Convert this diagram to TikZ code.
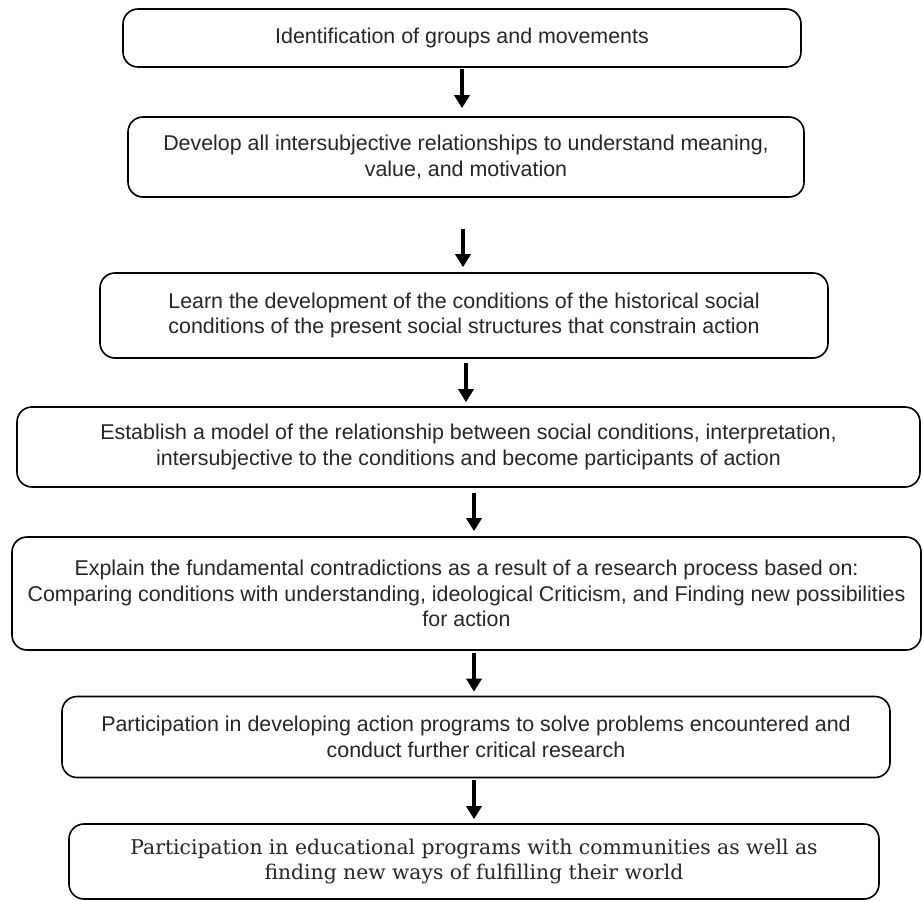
\documentclass[tikz,border=0pt]{standalone}
\usepackage{fontspec}
\setmainfont{Liberation Sans}
\newfontfamily\serifbox{DejaVu Serif}
\usetikzlibrary{arrows.meta,calc}
\begin{document}
\begin{tikzpicture}[x=1pt,y=-1pt,
  box/.style={draw=black, line width=1.6pt, rounded corners=15pt, fill=white,
    align=center, inner sep=0pt, text=black!85,
    font=\fontsize{21.4}{25.5}\selectfont},
  sbox/.style={box, font=\serifbox\fontsize{20.3}{24.5}\selectfont},
  arr/.style={line width=4pt, -{Triangle[width=15pt,length=13pt]}}]
\useasboundingbox[fill=white] (0,0) rectangle (923,901);
% boxes
\node[box, minimum width=678pt, minimum height=58pt] (b1) at (462,38) {Identification of groups and movements};
\node[box, minimum width=676pt, minimum height=80pt] (b2) at (466,157) {Develop all intersubjective relationships to understand meaning,\\ value, and motivation};
\node[box, minimum width=728pt, minimum height=85pt] (b3) at (464,315.5) {Learn the development of the conditions of the historical social\\ conditions of the present social structures that constrain action};
\node[box, minimum width=903pt, minimum height=80pt] (b4) at (468.5,447) {Establish a model of the relationship between social conditions, interpretation,\\ intersubjective to the conditions and become participants of action};
\node[box, minimum width=909pt, minimum height=113pt] (b5) at (466.5,593.5) {Explain the fundamental contradictions as a result of a research process based on:\\ Comparing conditions with understanding, ideological Criticism, and Finding new possibilities\\ for action};
\node[box, minimum width=828pt, minimum height=81pt] (b6) at (476,737) {Participation in developing action programs to solve problems encountered and\\ conduct further critical research};
\node[sbox, minimum width=810pt, minimum height=75pt] (b7) at (474,861.5) {Participation in educational programs with communities as well as\\ finding new ways of fulfilling their world};
% arrow columns
\coordinate (ca) at (462,0);
\coordinate (cb) at (463,0);
\coordinate (cc) at (466,0);
\coordinate (cd) at (474,0);
\draw[arr] ([yshift=-1pt]b1.south -| ca) -- ([yshift=8pt]b2.north -| ca);
\draw[arr] ([yshift=-31pt]b2.south -| cb) -- ([yshift=5pt]b3.north -| cb);
\draw[arr] ([yshift=-4pt]b3.south -| cc) -- ([yshift=4pt]b4.north -| cc);
\draw[arr] ([yshift=-5pt]b4.south -| cd) -- ([yshift=5pt]b5.north -| cd);
\draw[arr] ([yshift=-2pt]b5.south -| cd) -- ([yshift=4pt]b6.north -| cd);
\draw[arr] ([yshift=-2pt]b6.south -| cd) -- ([yshift=4pt]b7.north -| cd);
\end{tikzpicture}
\end{document}
